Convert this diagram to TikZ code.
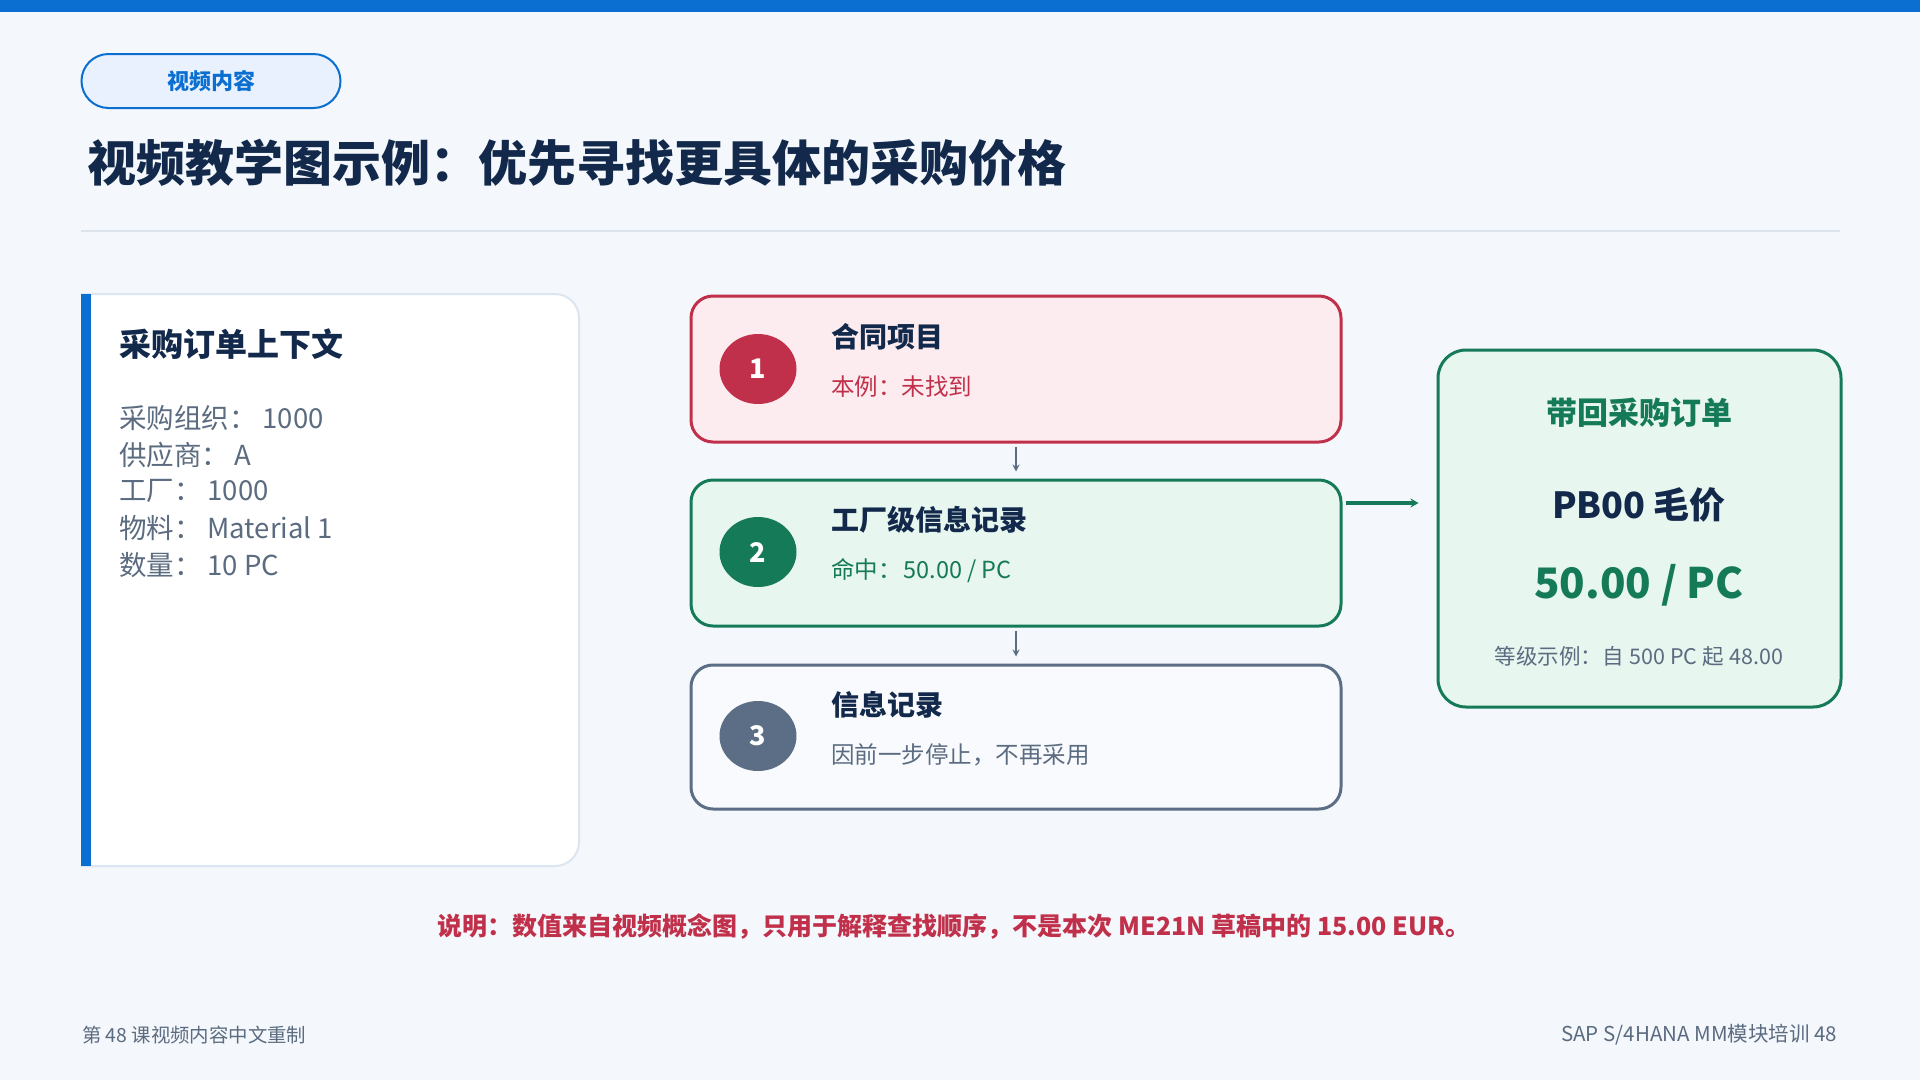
\documentclass[tikz,border=0pt]{standalone}
\usepackage{fontspec}
\setmainfont{Noto Sans CJK SC}
\usetikzlibrary{arrows.meta,shapes.geometric}
\definecolor{bg}{HTML}{F4F7FB}
\definecolor{topblue}{HTML}{0B6FD1}
\definecolor{pillfill}{HTML}{E8F1FD}
\definecolor{navy}{HTML}{13294B}
\definecolor{txtgray}{HTML}{5B6B80}
\definecolor{divider}{HTML}{DDE3EA}
\definecolor{cardborder}{HTML}{DCE6F2}
\definecolor{redc}{HTML}{C0304A}
\definecolor{redfill}{HTML}{FDECEF}
\definecolor{greenc}{HTML}{157A57}
\definecolor{greenfill}{HTML}{E7F6EE}
\definecolor{slate}{HTML}{5B6E85}
\definecolor{slatefill}{HTML}{F8FAFD}
\newcommand{\fs}[1]{\fontsize{#1}{#1}\selectfont}
\newcommand{\gap}{\hspace{6pt}}
\tikzset{
  txt/.style={inner sep=0pt, outer sep=0pt},
  stepbox/.style={draw, line width=3pt, rounded corners=22pt, minimum width=650pt, minimum height=146pt},
  badge/.style={ellipse, minimum width=77pt, minimum height=70pt, inner sep=0pt, text=white, font=\fs{27}\bfseries},
  steptitle/.style={txt, anchor=west, text=navy, font=\fs{28}\bfseries},
  stepsub/.style={txt, anchor=west, font=\fs{23.5}},
  ctxline/.style={txt, anchor=west, text=txtgray, font=\fs{27.5}},
  flowarrow/.style={draw=slate, line width=2pt, -{Stealth[length=7pt,width=7pt]}},
  hitarrow/.style={draw=greenc, line width=3.5pt, -{Stealth[length=8pt,width=9pt]}},
}
\begin{document}
\begin{tikzpicture}[x=1pt,y=-1pt]
\useasboundingbox (0,0) rectangle (1920,1080);
\fill[bg] (0,0) rectangle (1920,1080);
\fill[topblue] (0,0) rectangle (1920,12);

% tag pill
\node[draw=topblue, line width=2pt, fill=pillfill, rounded corners=27pt,
      minimum width=259pt, minimum height=54pt, inner sep=0pt,
      text=topblue, font=\fs{22}\bfseries] (tag) at (211,81) {视频内容};

% title
\node[txt, anchor=west, text=navy, font=\fs{49}\bfseries] (title) at (87,163)
  {视频教学图示例：优先寻找更具体的采购价格};
\draw[divider, line width=2pt] (81,231) -- (1840,231);

% context card
\fill[white, rounded corners=24pt] (81,294) rectangle (579,866);
\fill[white] (81,294) rectangle (130,866);
\draw[cardborder, line width=2pt, rounded corners=24pt] (81,294) -- (579,294) -- (579,866) -- (81,866);
\fill[topblue] (81,294) rectangle (91,866);
\node[txt, anchor=west, text=navy, font=\fs{32}\bfseries] (ctxtitle) at (119,344) {采购订单上下文};
\node[ctxline] (c1) at (119,418) {采购组织：\gap 1000};
\node[ctxline] (c2) at (119,455) {供应商：\gap A};
\node[ctxline] (c3) at (119,491) {工厂：\gap 1000};
\node[ctxline] (c4) at (119,528) {物料：\gap Material 1};
\node[ctxline] (c5) at (119,565) {数量：\gap 10 PC};

% step boxes
\node[stepbox, draw=redc, fill=redfill] (s1) at (1016,369) {};
\node[stepbox, draw=greenc, fill=greenfill] (s2) at (1016,553) {};
\node[stepbox, draw=slate, fill=slatefill, minimum height=144pt] (s3) at (1016,737) {};

\node[badge, fill=redc] (b1) at (758,369) {1};
\node[badge, fill=greenc] (b2) at (758,552) {2};
\node[badge, fill=slate] (b3) at (758,736) {3};

\node[steptitle] (t1) at (831,337) {合同项目};
\node[stepsub, text=redc] (u1) at (831,387) {本例：未找到};
\node[steptitle] (t2) at (831,520) {工厂级信息记录};
\node[stepsub, text=greenc] (u2) at (831,571) {命中：\hspace{2pt}50.00 / PC};
\node[steptitle] (t3) at (831,705) {信息记录};
\node[stepsub, text=txtgray] (u3) at (831,755) {因前一步停止，不再采用};

\draw[flowarrow, shorten <=3pt, shorten >=7pt] (s1.south) -- (s2.north);
\draw[flowarrow, shorten <=3pt, shorten >=7pt] (s3.north |- s2.south) -- (s3.north);

% result box
\node[draw=greenc, line width=3pt, fill=greenfill, rounded corners=28pt,
      minimum width=403pt, minimum height=357pt] (res) at (1639.5,528.5) {};
\coordinate (hitfrom) at (1341,503);
\draw[hitarrow, shorten <=5pt, shorten >=18pt] (hitfrom) -- (hitfrom -| res.west);
\node[txt, text=greenc, font=\fs{31}\bfseries] (r1) at (1639,413) {带回采购订单};
\node[txt, text=navy, font=\fs{36}\bfseries] (r2) at (1639,505) {PB00 毛价};
\node[txt, text=greenc, font=\fs{42}\bfseries] (r3) at (1639,585) {50.00 / PC};
\node[txt, text=txtgray, font=\fs{21.5}] (r4) at (1639,656) {等级示例：自\gap 500 PC 起\gap 48.00};

% note
\node[txt, text=redc, font=\fs{25}\bfseries] (note) at (954,927)
  {说明：数值来自视频概念图，只用于解释查找顺序，不是本次 ME21N 草稿中的 15.00 EUR。};

% footer
\node[txt, anchor=west, text=txtgray, font=\fs{19.4}] (fl) at (82,1035) {第 48 课视频内容中文重制};
\node[txt, anchor=east, text=txtgray, font=\fs{20.5}] (fr) at (1837,1035) {SAP S/4HANA MM模块培训 48};
\end{tikzpicture}
\end{document}
